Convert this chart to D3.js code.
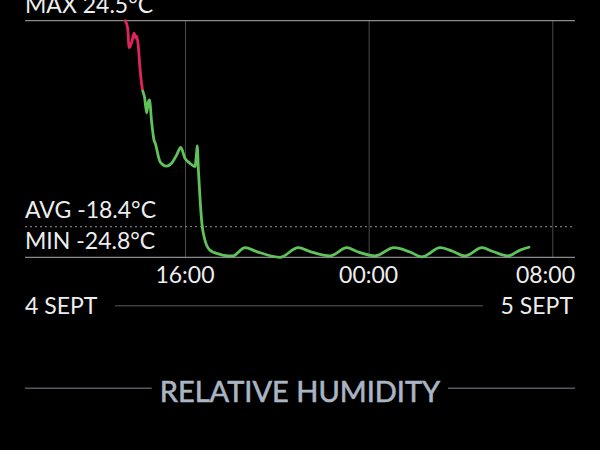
<!DOCTYPE html>
<html>
<head>
<meta charset="utf-8">
<script src="https://cdn.jsdelivr.net/npm/d3@7/dist/d3.min.js"></script>
<style>
  html, body { margin: 0; padding: 0; background: #000; }
  svg { display: block; }
  text { font-family: Lato, "Open Sans", sans-serif; }
</style>
</head>
<body>
<svg id="chart" width="600" height="450"></svg>
<script>
// ---- data (times on 4–5 Sept, temperature in °C) ----
const times = [
  "09-04 13:24","09-04 13:30","09-04 13:34","09-04 13:41","09-04 13:47","09-04 13:51",
  "09-04 13:54","09-04 13:58","09-04 14:02","09-04 14:09","09-04 14:14","09-04 14:20",
  "09-04 14:24","09-04 14:27","09-04 14:33","09-04 14:39","09-04 14:42","09-04 14:55",
  "09-04 15:12","09-04 15:25","09-04 15:38","09-04 15:49","09-04 16:00","09-04 16:13",
  "09-04 16:26","09-04 16:31","09-04 16:32","09-04 16:35","09-04 16:39","09-04 16:44",
  "09-04 16:52","09-04 17:05","09-04 17:27","09-04 17:53","09-04 18:05","09-04 18:37",
  "09-04 19:07","09-04 20:08","09-04 20:56","09-04 21:27","09-04 22:19","09-04 23:03",
  "09-04 23:29","09-05 00:17","09-05 01:06","09-05 01:48","09-05 02:19","09-05 03:07",
  "09-05 03:41","09-05 04:12","09-05 04:56","09-05 05:25","09-05 06:04","09-05 06:36",
  "09-05 06:59"
];
const temps = [
  24.5, 23.0, 18.9, 20.1, 21.9, 20.9,
  21.3, 19.1, 14.9, 10.1, 8.7, 5.3,
  7.6, 8.0, 3.2, -0.4, -1.0, -4.9,
  -5.8, -5.2, -3.5, -1.9, -4.2, -5.2,
  -5.9, -2.4, -1.6, -6.6, -12.2, -17.6,
  -21.2, -23.3, -24.1, -24.5, -24.5, -22.8,
  -23.6, -24.8, -22.8, -23.6, -24.5, -22.8,
  -23.6, -24.5, -22.8, -23.7, -24.7, -22.8,
  -23.6, -24.5, -22.8, -23.6, -24.5, -23.3,
  -22.7
];
const stats = { max: 24.5, avg: -18.4, min: -24.8 };
const statLabels = ["MAX 24.5°C", "AVG -18.4°C", "MIN -24.8°C"];
const tickTimes = ["09-04 16:00", "09-05 00:00", "09-05 08:00"];
const dayLabels = ["4 SEPT", "5 SEPT"];
const warnThreshold = 10;
const sectionTitle = "RELATIVE HUMIDITY";

// ---- layout ----
const parse = d3.timeParse("%m-%d %H:%M");
const data = times.map((t, i) => ({ t: parse(t), v: temps[i] }));
const ticks = tickTimes.map(parse);

const svg = d3.select("#chart");
const padL = 25, padR = 575, plotTop = 20.7, plotBottom = 257.3;

const x = d3.scaleTime()
  .domain([ticks[0], ticks[2]])
  .range([185, 552.3]);
const y = d3.scaleLinear()
  .domain([stats.min, stats.max])
  .range([plotBottom, plotTop]);

svg.append("rect").attr("width", 600).attr("height", 450).attr("fill", "#000");

// vertical gridlines via axis
const gridAxis = d3.axisBottom(x).tickValues(ticks).tickSize(-(plotBottom - plotTop)).tickFormat("");
const grid = svg.append("g").attr("transform", `translate(0,${plotBottom})`).call(gridAxis);
grid.select(".domain").remove();
grid.selectAll("line").attr("stroke", "#4a4a4a").attr("stroke-width", 1);

// top & bottom lines
svg.append("line").attr("x1", padL).attr("x2", padR).attr("y1", y(stats.max)).attr("y2", y(stats.max))
  .attr("stroke", "#8a8a8a").attr("stroke-width", 1.2);
svg.append("line").attr("x1", padL).attr("x2", padR).attr("y1", y(stats.min)).attr("y2", y(stats.min))
  .attr("stroke", "#8a8a8a").attr("stroke-width", 1.2);
// avg dotted
svg.append("line").attr("x1", padL).attr("x2", 573).attr("y1", y(stats.avg)).attr("y2", y(stats.avg))
  .attr("stroke", "#777").attr("stroke-width", 1.2).attr("stroke-dasharray", "2,3");

// gradient (red above threshold, green below)
const defs = svg.append("defs");
const grad = defs.append("linearGradient").attr("id", "tempGrad")
  .attr("gradientUnits", "userSpaceOnUse")
  .attr("x1", 0).attr("x2", 0).attr("y1", y(stats.max)).attr("y2", y(stats.min));
const off = (y(warnThreshold) - y(stats.max)) / (y(stats.min) - y(stats.max));
grad.append("stop").attr("offset", 0).attr("stop-color", "#e0245c");
grad.append("stop").attr("offset", off).attr("stop-color", "#e0245c");
grad.append("stop").attr("offset", off).attr("stop-color", "#5fc25a");
grad.append("stop").attr("offset", 1).attr("stop-color", "#5fc25a");

const line = d3.line().x(d => x(d.t)).y(d => y(d.v)).curve(d3.curveMonotoneX);
svg.append("path").datum(data)
  .attr("d", line)
  .attr("fill", "none")
  .attr("stroke", "url(#tempGrad)")
  .attr("stroke-width", 2.8)
  .attr("stroke-linejoin", "round")
  .attr("stroke-linecap", "round");

// stat labels
const txt = "#ededed";
svg.append("text").attr("x", padL).attr("y", 12.7).attr("fill", txt)
  .attr("font-size", 23).text(statLabels[0]);
svg.append("text").attr("x", padL).attr("y", 218.3).attr("fill", txt)
  .attr("font-size", 23).text(statLabels[1]);
svg.append("text").attr("x", padL).attr("y", 249).attr("fill", txt)
  .attr("font-size", 23).text(statLabels[2]);

// time tick labels
const fmt = d3.timeFormat("%H:%M");
svg.selectAll(".tl").data(ticks).enter().append("text")
  .attr("class", "tl")
  .attr("x", (d, i) => i === 2 ? padR : x(d))
  .attr("y", 283)
  .attr("text-anchor", (d, i) => i === 2 ? "end" : "middle")
  .attr("fill", txt).attr("font-size", 23)
  .text(d => fmt(d));

// day labels
svg.append("text").attr("x", padL).attr("y", 314).attr("fill", txt)
  .attr("font-size", 23).text(dayLabels[0]);
svg.append("text").attr("x", 573).attr("y", 314).attr("fill", txt)
  .attr("text-anchor", "end").attr("font-size", 23).text(dayLabels[1]);
svg.append("line").attr("x1", 115).attr("x2", 483).attr("y1", 305.7).attr("y2", 305.7)
  .attr("stroke", "#3e3e3e").attr("stroke-width", 1.5);

// section title
svg.append("text").attr("x", 300).attr("y", 401.5).attr("text-anchor", "middle")
  .attr("fill", "#aab5c4").attr("stroke", "#aab5c4").attr("stroke-width", 0.6)
  .attr("font-size", 29).text(sectionTitle);
svg.append("line").attr("x1", padL).attr("x2", 151.7).attr("y1", 388.3).attr("y2", 388.3)
  .attr("stroke", "#555a60").attr("stroke-width", 1.5);
svg.append("line").attr("x1", 448).attr("x2", padR).attr("y1", 388.3).attr("y2", 388.3)
  .attr("stroke", "#555a60").attr("stroke-width", 1.5);
</script>
</body>
</html>
